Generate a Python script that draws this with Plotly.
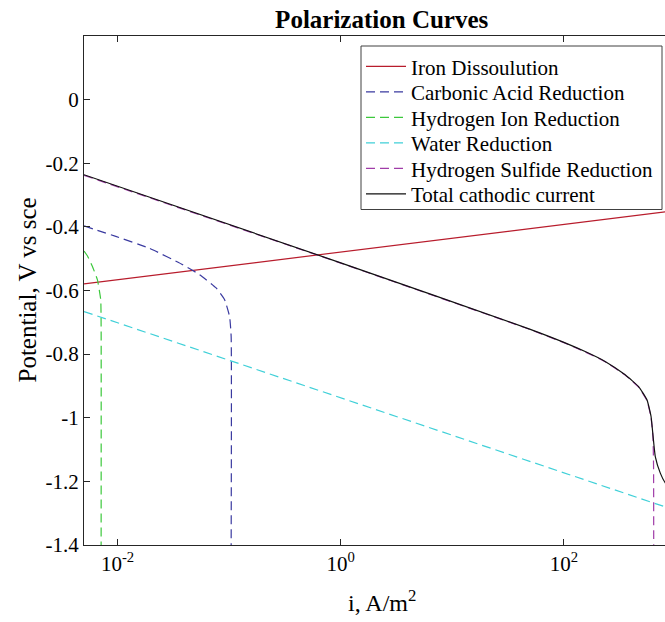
import plotly.graph_objects as go

# ---- data (current density i in A/m^2, potential in V vs SCE) ----
iron_i = [0.005, 1000]
iron_v = [-0.579, -0.349]

carbonic_i = [0.005, 0.00964, 0.0192, 0.0384, 0.0542, 0.0764, 0.0910, 0.1009, 0.1042, 0.1042]
carbonic_v = [-0.397, -0.430, -0.467, -0.519, -0.550, -0.592, -0.629, -0.682, -0.745, -1.4]

hion_i = [0.005, 0.00536, 0.00594, 0.00659, 0.00706, 0.00712, 0.00712]
hion_v = [-0.476, -0.491, -0.524, -0.566, -0.629, -0.713, -1.4]

water_i = [0.005, 1000]
water_v = [-0.666, -1.291]

h2s_i = [0.005, 1, 50, 100, 155, 234, 354, 467, 556, 604, 628, 636, 638]
h2s_v = [-0.238, -0.514, -0.723, -0.764, -0.793, -0.824, -0.866, -0.904, -0.947, -1.0, -1.06, -1.15, -1.4]

total_i = [0.005, 1, 50, 100, 155, 234, 354, 467, 556, 604, 630, 659, 731, 813, 900]
total_v = [-0.236, -0.513, -0.722, -0.763, -0.792, -0.823, -0.865, -0.902, -0.944, -0.996, -1.059, -1.122, -1.174, -1.206, -1.225]

series_names = ["Iron Dissoulution", "Carbonic Acid Reduction", "Hydrogen Ion Reduction",
                "Water Reduction", "Hydrogen Sulfide Reduction", "Total cathodic current"]

x_tick_vals = [0.01, 1, 100]
x_tick_text = ["10<sup>-2</sup>", "10<sup>0</sup>", "10<sup>2</sup>"]
y_tick_vals = [0, -0.2, -0.4, -0.6, -0.8, -1, -1.2, -1.4]
y_tick_text = ["0", "-0.2", "-0.4", "-0.6", "-0.8", "-1", "-1.2", "-1.4"]

FONT = "Liberation Serif, Times New Roman, serif"
AX = "#262626"
DASH = "9px,5px"

# plot-area geometry in pixels
PL, PR, PT, PB = 84, 665, 36, 545
PW, PH = PR - PL, PB - PT


def px_x(p):
    return (p - PL) / PW


def px_y(p):
    return 1 - (p - PT) / PH


fig = go.Figure()
specs = [
    (iron_i, iron_v, "#b81c2c", "solid", False),
    (carbonic_i, carbonic_v, "#3a3aa0", DASH, True),
    (hion_i, hion_v, "#3cc83c", DASH, True),
    (water_i, water_v, "#40d0d8", DASH, False),
    (h2s_i, h2s_v, "#a03ca8", DASH, True),
    (total_i, total_v, "#111111", "solid", True),
]
legend_layouts = {}
row_top, row_step = 66.7, 25.5
for k, ((xs, ys, col, dash, smooth), name) in enumerate(zip(specs, series_names)):
    lname = "legend" if k == 0 else f"legend{k + 1}"
    fig.add_trace(go.Scatter(
        x=xs, y=ys, mode="lines", name=name, legend=lname,
        line=dict(color=col, width=1.2, dash=dash,
                  shape="spline" if smooth else "linear", smoothing=0.4),
    ))
    legend_layouts[lname] = dict(
        x=px_x(361), y=px_y(row_top + k * row_step), xanchor="left", yanchor="middle",
        bgcolor="rgba(0,0,0,0)", borderwidth=0, itemwidth=40,
        font=dict(family=FONT, size=21, color="black"),
    )

L_left = -2.30103
L_right = 2.906

fig.update_layout(
    width=665, height=622,
    margin=dict(l=PL, r=0, t=PT, b=622 - PB),
    paper_bgcolor="white", plot_bgcolor="white",
    font=dict(family=FONT, size=21, color="black"),
    title=dict(text="<b>Polarization Curves</b>", font=dict(family=FONT, size=25, color="black"),
               xref="container", x=381.7 / 665, xanchor="center",
               yref="container", y=1 - 19 / 622, yanchor="middle"),
    showlegend=True,
    xaxis=dict(type="log", range=[L_left, L_right], tickvals=x_tick_vals, ticktext=x_tick_text,
               ticks="inside", ticklen=6, tickcolor=AX, showline=True, linecolor=AX, linewidth=1,
               mirror="ticks", showgrid=False, zeroline=False,
               tickfont=dict(family=FONT, size=21, color="black")),
    yaxis=dict(range=[-1.4, 0.2], tickvals=y_tick_vals, ticktext=y_tick_text,
               ticks="inside", ticklen=6, tickcolor=AX, showline=True, linecolor=AX, linewidth=1,
               mirror=False, showgrid=False, zeroline=False,
               tickfont=dict(family=FONT, size=21, color="black")),
    shapes=[dict(type="rect", xref="paper", yref="paper",
                 x0=px_x(361), x1=px_x(662), y0=px_y(209.5), y1=px_y(46),
                 line=dict(color="#404040", width=1), fillcolor="white", layer="above")],
    annotations=[
        dict(text="i, A/m<sup>2</sup>", xref="paper", yref="paper",
             x=px_x(381.7), y=px_y(601), xanchor="center", yanchor="middle",
             showarrow=False, font=dict(family=FONT, size=24, color="black")),
        dict(text="Potential, V vs sce", xref="paper", yref="paper", textangle=-90,
             x=px_x(27), y=0.5, xanchor="center", yanchor="middle",
             showarrow=False, font=dict(family=FONT, size=25, color="black")),
    ],
)
fig.update_layout(**legend_layouts)

fig.write_html("out.html")
